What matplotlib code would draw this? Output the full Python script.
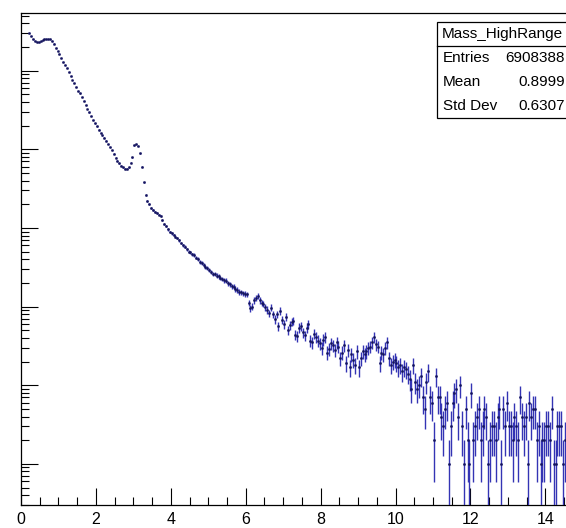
import numpy as np
import matplotlib
matplotlib.use('Agg')
import matplotlib.pyplot as plt
from matplotlib.ticker import MultipleLocator, LogLocator, NullFormatter
from matplotlib.patches import Rectangle

plt.rcParams['font.family'] = ['Liberation Sans', 'DejaVu Sans']

# histogram binning (mass in GeV, 0.05 wide bins, first filled bin starts at 0.2)
bin_lo = 0.2
bin_width = 0.05

# bin contents, 0.2 -> 15
counts_low = [302000, 275000, 254000, 240000, 233000, 232000, 239000, 247000,
              251000, 254000, 254000, 251000, 240000, 221000]
counts_mid = [195000, 176000, 162000, 146000, 130000, 117000, 107000, 96600, 85100, 76700,
              69200, 61700, 55600, 51300, 46200, 41200, 36700, 32700, 29500, 26300,
              23700, 21400, 19500, 17800, 16200, 15000, 14000, 12900, 11700, 10700,
              9770, 8810, 7850, 7160, 6610, 6170, 5890, 5690, 5620, 5890,
              6760, 7940, 11200, 11700, 11000, 8910, 6030, 3800, 2630, 2190,
              2000, 1780, 1680, 1600, 1550, 1480, 1410, 1260, 1120, 1050,
              955, 891, 851, 813, 776, 741, 692, 646, 603, 575,
              537, 501, 490, 462, 452, 420, 405, 372, 360, 335,
              318, 309, 292, 278, 262, 259, 248, 243, 232, 226,
              216, 213, 198, 193, 180, 179, 168, 163, 153, 152,
              147, 145]
counts_dip = [143, 112, 95, 100, 120, 129, 135, 120, 112]
counts_tail = [108, 98, 91, 82, 97, 80, 69, 80, 56, 88,
               68, 60, 74, 50, 58, 64, 66, 44, 42, 54,
               56, 47, 43, 54, 60, 37, 35, 45, 41, 37,
               34, 30, 38, 41, 26, 29, 34, 32, 28, 35,
               31, 22, 26, 32, 19, 28, 17, 25, 21, 18,
               27, 17, 22, 27, 25, 27, 30, 31, 35, 41,
               33, 31, 19, 26, 25, 30, 35, 22, 18, 20,
               21, 19, 17, 18, 15, 17, 16, 14, 12, 9,
               18, 11, 9, 10, 13, 7, 5, 11, 15, 7]
counts_high = [6, 2, 13, 7, 7, 4, 3, 5, 6, 1,
               3, 6, 8, 9, 4, 10, 3, 1, 5, 2,
               1, 8, 2, 3, 4, 5, 2, 3, 5, 4,
               1, 2, 3, 3, 2, 4, 5, 1, 5, 3,
               6, 3, 3, 2, 4, 3, 2, 7, 4, 3,
               4, 1, 6, 4, 5, 5, 2, 3, 1, 2,
               2, 3, 3, 2, 5, 1, 1, 3, 3, 3,
               1, 2, 2, 2, 2, 2, 1, 1, 2, 1, 1]

stat_title = 'Mass_HighRange'
stat_names = ['Entries', 'Mean', 'Std Dev']
stat_values = ['6908388', '0.8999', '0.6307']

counts = np.array(counts_low + counts_mid + counts_dip + counts_tail + counts_high, dtype=float)
centers = bin_lo + bin_width * (np.arange(len(counts)) + 0.5)
err = np.sqrt(counts)
err_lo = np.minimum(err, counts * 0.999)

W, H = 566, 528
fig = plt.figure(figsize=(W / 100, H / 100), dpi=100)
# axes frame: x=0 at px 21, 37.45 px per unit, runs to 15 (past the right edge)
ax = fig.add_axes([21 / W, 23 / H, 15 * 37.45 / W, 492 / H])

ax.errorbar(centers, counts, yerr=[err_lo, err], xerr=bin_width / 2,
            fmt='s', ms=1.1, mfc='#14145a', mec='#14145a', mew=0.5,
            ecolor='#3434b4', elinewidth=1.0, capsize=0, zorder=3)

ax.set_yscale('log')
ax.set_xlim(0, 15)
ax.set_ylim(0.30, 5.4e5)

ax.xaxis.set_major_locator(MultipleLocator(2))
ax.xaxis.set_minor_locator(MultipleLocator(0.5))
ax.yaxis.set_major_locator(LogLocator(base=10, numticks=20))
ax.yaxis.set_minor_locator(LogLocator(base=10, subs=np.arange(2, 10), numticks=20))
ax.yaxis.set_major_formatter(NullFormatter())
ax.yaxis.set_minor_formatter(NullFormatter())

ax.tick_params(axis='both', which='major', direction='in', length=12, width=0.8,
               color='black', top=False, right=False)
ax.tick_params(axis='both', which='minor', direction='in', length=6, width=0.8,
               color='black', top=False, right=False)
ax.tick_params(axis='x', which='major', labelsize=11.5, pad=5)
for s in ax.spines.values():
    s.set_linewidth(0.9)

# stats box (ROOT style), placed in figure pixels
def fx(px):
    return px / W

def fy(py):
    return 1 - py / H

box_l, box_r, box_t, box_b = 437, 576, 22, 118
fig.patches.append(Rectangle((fx(box_l), fy(box_b)), fx(box_r) - fx(box_l), fy(box_t) - fy(box_b),
                             transform=fig.transFigure, facecolor='white', edgecolor='black',
                             linewidth=0.9, zorder=5))
fig.lines.append(plt.Line2D([fx(box_l), fx(box_r)], [fy(46), fy(46)],
                            transform=fig.transFigure, color='black', linewidth=0.9, zorder=6))
fig.text(fx(442), fy(34), stat_title, ha='left', va='center', fontsize=11, zorder=7)
for i, (name, val) in enumerate(zip(stat_names, stat_values)):
    y = 58 + 24 * i
    fig.text(fx(443), fy(y), name, ha='left', va='center', fontsize=11, zorder=7)
    fig.text(fx(565), fy(y), val, ha='right', va='center', fontsize=11, zorder=7)

fig.savefig('out.png', dpi=100)
